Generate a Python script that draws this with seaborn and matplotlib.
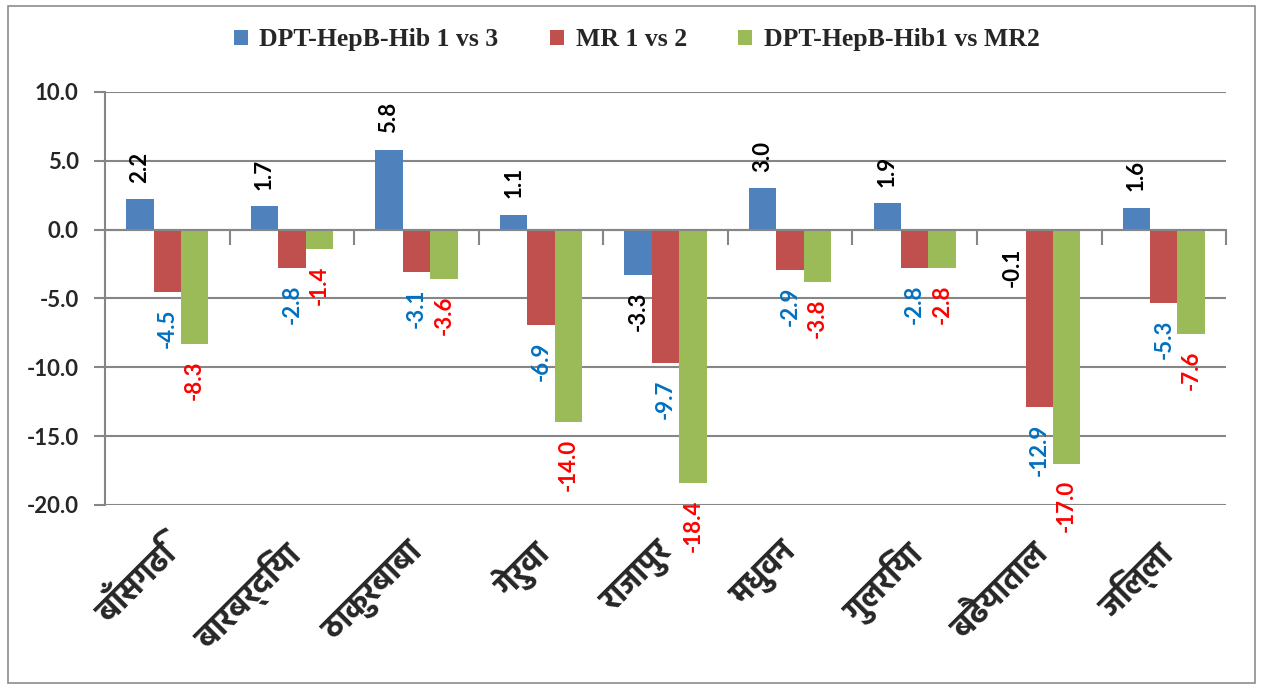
import matplotlib
matplotlib.use("Agg")
import matplotlib.pyplot as plt
import matplotlib.font_manager as fm
import seaborn as sns
import pandas as pd

# data
places = ["बाँसगढि", "बारबर्दिया", "ठाकुरबाबा", "गेरुवा", "राजापुर",
          "मधुवन", "गुलरिया", "बढैयाताल", "जिल्ला"]
dpt_1_vs_3 = [2.2, 1.7, 5.8, 1.1, -3.3, 3.0, 1.9, -0.1, 1.6]
mr_1_vs_2 = [-4.5, -2.8, -3.1, -6.9, -9.7, -2.9, -2.8, -12.9, -5.3]
dpt1_vs_mr2 = [-8.3, -1.4, -3.6, -14.0, -18.4, -3.8, -2.8, -17.0, -7.6]
series_names = ["DPT-HepB-Hib 1 vs 3", "MR 1 vs 2", "DPT-HepB-Hib1 vs MR2"]
y_ticks = [10, 5, 0, -5, -10, -15, -20]

# a Devanagari font that looks like Mangal, if there is one
installed = {f.name for f in fm.fontManager.ttflist}
deva_font = "DejaVu Sans"
for name in ["Hind", "Noto Sans Devanagari", "Mukta", "Akshar"]:
    if name in installed:
        deva_font = name
        break

df = pd.DataFrame({
    "place": places * 3,
    "series": [series_names[0]] * 9 + [series_names[1]] * 9 + [series_names[2]] * 9,
    "value": dpt_1_vs_3 + mr_1_vs_2 + dpt1_vs_mr2,
})

sns.set_style("white")
plt.rcParams["font.family"] = ["Lato", "DejaVu Sans"]

fig = plt.figure(figsize=(12.61, 6.88), dpi=100)
ax = fig.add_axes([0.0833, 0.266, 0.889, 0.6003])

colors = ["#4F81BD", "#C0504D", "#9BBB59"]
sns.barplot(data=df, x="place", y="value", hue="series", order=places,
            hue_order=series_names, palette=colors, saturation=1,
            width=0.66, linewidth=0, ax=ax)

ax.set_ylim(-20, 10)
ax.set_xlim(-0.5, 8.5)
ax.set_yticks(y_ticks)
ax.set_yticklabels([f"{v:.1f}" for v in y_ticks], fontsize=16, fontweight="bold")
ax.yaxis.grid(True, color="#868686", lw=1.5)
ax.set_axisbelow(True)
ax.set_xlabel("")
ax.set_ylabel("")

for s in ["top", "right"]:
    ax.spines[s].set_visible(False)
ax.spines["left"].set_color("#868686")
ax.spines["left"].set_linewidth(1.5)
ax.spines["bottom"].set_position(("data", 0))
ax.spines["bottom"].set_color("#868686")
ax.spines["bottom"].set_linewidth(1.5)
ax.tick_params(axis="y", direction="out", length=8, color="#868686", width=1.5, pad=11, left=True)
ax.set_xticks([i - 0.5 for i in range(10)])
ax.set_xticklabels([""] * 10)
ax.tick_params(axis="x", direction="out", length=11, color="#868686", width=1.5, bottom=True)

# category names under the plot
for i, name in enumerate(places):
    ax.annotate(name, xy=(i, -20), xytext=(2, -32), textcoords="offset points",
                rotation=45, rotation_mode="anchor", ha="right", va="center",
                fontsize=23, fontweight="bold", family=[deva_font, "DejaVu Sans"])

label_colors = ["black", "#0070C0", "#FF0000"]
for cont, c in zip(ax.containers, label_colors):
    ax.bar_label(cont, fmt="%.1f", rotation=90, padding=12, color=c,
                 fontsize=16, fontweight="bold")

ax.legend(loc="center", bbox_to_anchor=(0.505, 0.942), bbox_transform=fig.transFigure,
          ncol=3, frameon=False, handlelength=0.55, handleheight=0.55, handletextpad=0.45,
          columnspacing=2.0, prop={"family": "Liberation Serif", "weight": "bold", "size": 18.5})

fig.add_artist(plt.Rectangle((0.0063, 0.007), 0.989, 0.985, transform=fig.transFigure,
                             fill=False, ec="#8c8c8c", lw=1.2))

fig.savefig("out.png", dpi=100)
